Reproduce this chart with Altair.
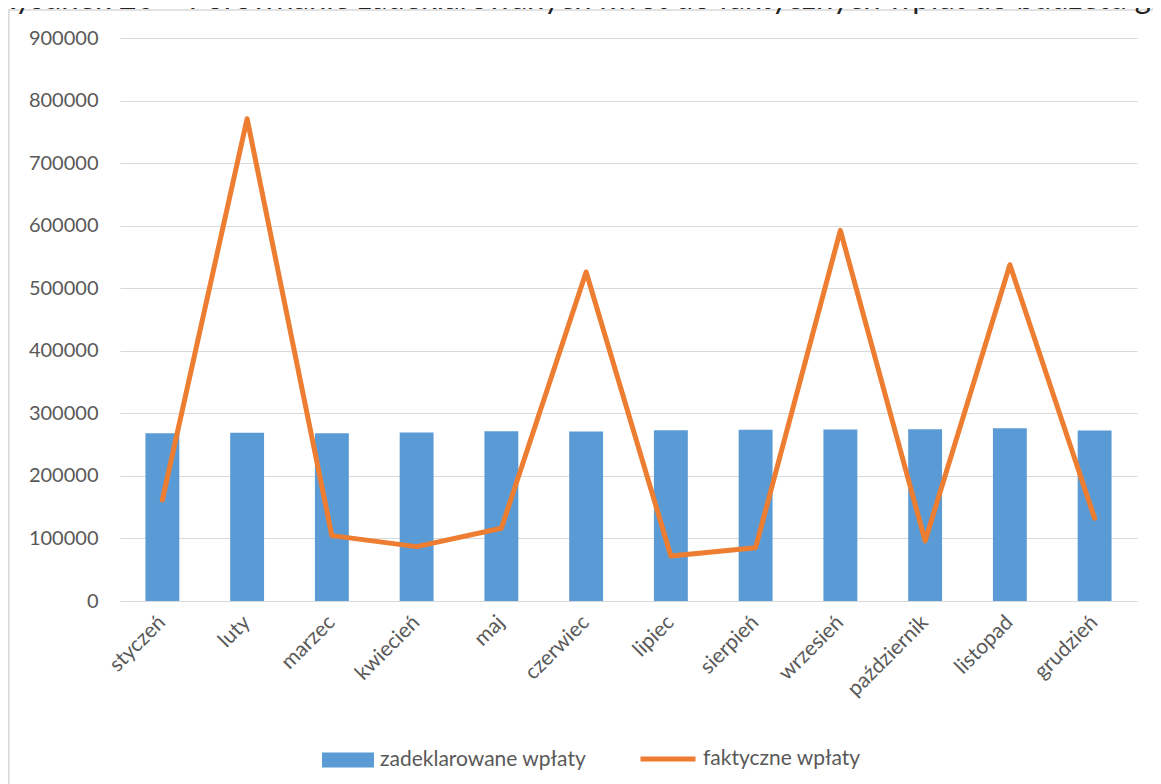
import altair as alt
import pandas as pd

months = ["styczeń", "luty", "marzec", "kwiecień", "maj", "czerwiec",
          "lipiec", "sierpień", "wrzesień", "październik", "listopad", "grudzień"]
declared = [268300, 268800, 268300, 269300, 271500, 270900,
            273100, 273600, 274100, 274700, 276300, 272500]
actual = [161600, 771000, 104500, 86900, 116300, 526000,
          72000, 85300, 592500, 96000, 537600, 132300]
y_ticks = [0, 100000, 200000, 300000, 400000, 500000, 600000, 700000, 800000, 900000]
series_bar = "zadeklarowane wpłaty"
series_line = "faktyczne wpłaty"
title_text = "Rysunek 20 – Porównanie zadeklarowanych kwot do faktycznych wpłat do budżetu gminy"

df = pd.DataFrame({"miesiac": months, "zadeklarowane": declared, "faktyczne": actual})
df["s1"] = series_bar
df["s2"] = series_line

FONT = "Lato"
GREY = "#595959"

x_enc = alt.X(
    "miesiac:N", sort=months, title=None,
    scale=alt.Scale(paddingInner=0.6, paddingOuter=0.3),
    axis=alt.Axis(labelAngle=-45, labelAlign="right", labelBaseline="middle",
                  labelPadding=18, ticks=False, tickSize=0, domain=False,
                  labelFont=FONT, labelFontSize=21, labelColor=GREY, grid=False),
)

y_axis = alt.Axis(values=y_ticks, format="d", ticks=False, tickSize=0, domain=False,
                  labelPadding=22, labelFont=FONT, labelFontSize=20, labelColor=GREY,
                  grid=True, gridColor="#D9D9D9", gridWidth=1.2)

bars = alt.Chart(df).mark_bar(color="#5B9BD5").encode(
    x=x_enc,
    y=alt.Y("zadeklarowane:Q", title=None, scale=alt.Scale(domain=[0, 900000], nice=False),
            axis=y_axis),
    color=alt.Color("s1:N", scale=alt.Scale(domain=[series_bar], range=["#5B9BD5"]),
                    legend=alt.Legend(title=None, orient="none", legendX=202, legendY=696,
                                      padding=0, labelOffset=6, labelLimit=500,
                                      symbolType="M-1,-0.29H1V0.29H-1Z", symbolSize=2704,
                                      symbolStrokeWidth=0,
                                      labelFont=FONT, labelFontSize=21, labelColor=GREY)),
)

line = alt.Chart(df).mark_line(strokeWidth=5, strokeCap="round", strokeJoin="round").encode(
    x=alt.X("miesiac:N", sort=months),
    y=alt.Y("faktyczne:Q"),
    stroke=alt.Stroke("s2:N", scale=alt.Scale(domain=[series_line], range=["#ED7D31"]),
                      legend=alt.Legend(title=None, orient="none", legendX=518, legendY=691,
                                        padding=0, labelOffset=5, labelLimit=500,
                                        symbolType="stroke", symbolSize=3025,
                                        symbolStrokeWidth=5,
                                        labelFont=FONT, labelFontSize=21, labelColor=GREY)),
)

frame_df = pd.DataFrame({"k": [0]})
frame_top = alt.Chart(frame_df).mark_rule(color="#D9D9D9", strokeWidth=1.5).encode(
    x=alt.value(-112), x2=alt.value(1100), y=alt.value(-28))
frame_left = alt.Chart(frame_df).mark_rule(color="#D9D9D9", strokeWidth=1.5).encode(
    x=alt.value(-111.2), y=alt.value(-28), y2=alt.value(800))
title = alt.Chart(frame_df).mark_text(align="left", baseline="alphabetic", font=FONT,
                                      fontSize=31, color="#222222").encode(
    x=alt.value(-124), y=alt.value(-29), text=alt.value(title_text))

chart = alt.layer(frame_top, frame_left, title, bars, line).resolve_scale(
    color="independent", stroke="independent"
).properties(
    width=1017, height=563,
    autosize=alt.AutoSizeParams(type="none"),
    padding={"left": 112, "top": 30, "right": 16, "bottom": 183},
).configure_view(stroke=None)

chart.save("out.html", embed_options={"renderer": "svg", "actions": False})
